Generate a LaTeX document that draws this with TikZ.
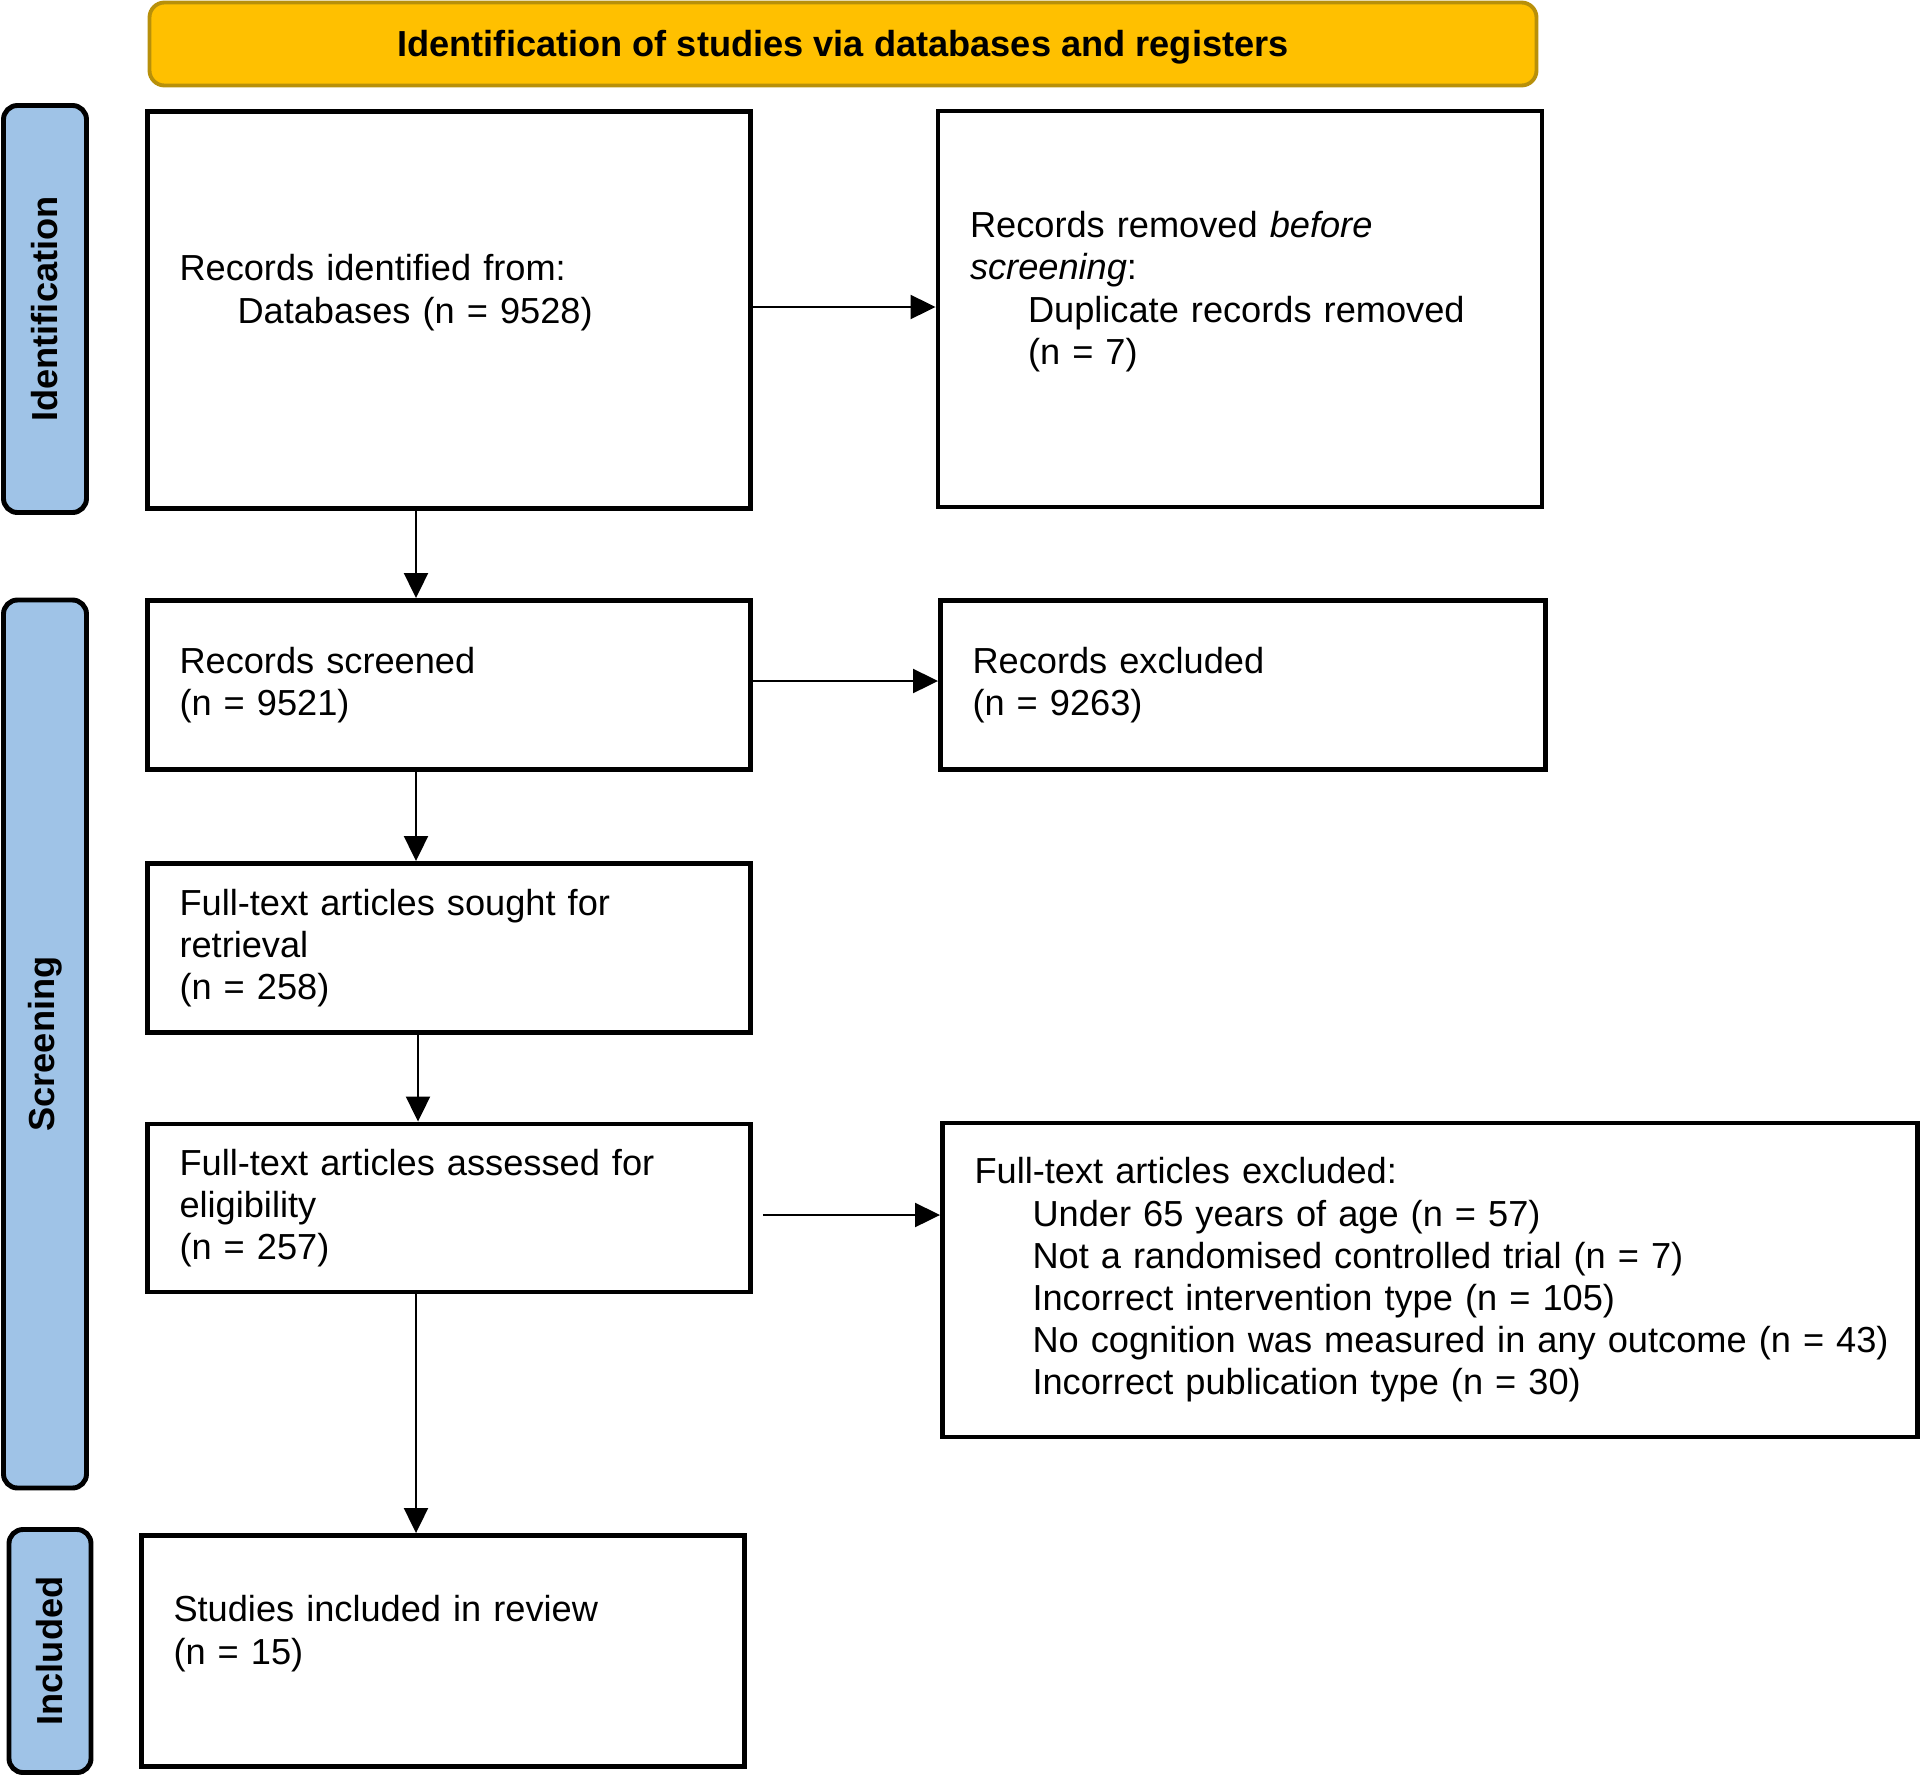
\documentclass[tikz,border=0pt]{standalone}
\usepackage{fontspec}
\setmainfont{Liberation Sans}
\usetikzlibrary{arrows.meta}
\definecolor{titlefill}{HTML}{FFC000}
\definecolor{titleline}{HTML}{B8900A}
\definecolor{sidefill}{HTML}{9FC3E7}
\newcommand{\ind}{\hspace*{0.58cm}}

\begin{document}
\begin{tikzpicture}[
  font=\fontsize{10.3}{12}\selectfont,
  box/.style={shape = rectangle, draw=black, line width=1.4pt, align=left, inner xsep=0.32cm, inner ysep=0pt},
  side/.style={shape = rectangle, rounded corners=0.14cm, draw=black, fill=sidefill, line width=1.4pt, inner sep=0pt, rotate=90, font=\fontsize{10.3}{12}\selectfont\bfseries},
  arr/.style={-{Triangle[length=0.25cm,width=0.24cm]}, line width=0.6pt}
]
\useasboundingbox (0,0) rectangle (19.2,-17.755);

\node[shape = rectangle, rounded corners=0.15cm, draw=titleline, fill=titlefill, line width=1.1pt, minimum width=13.87cm, minimum height=0.83cm, text height=0.26cm, text depth=0pt](head) at (8.43,-0.44) {\bfseries Identification of studies via databases and registers};

\node[side, minimum width=4.07cm, minimum height=0.83cm](sideid) at (0.45,-3.09) {Identification};
\node[side, minimum width=8.88cm, minimum height=0.83cm](sidescr) at (0.45,-10.44) {Screening};
\node[side, minimum width=2.43cm, minimum height=0.82cm](sideinc) at (0.50,-16.51) {Included};

\node[box, text width=5.39cm, minimum height=3.97cm](rec) at (4.49,-3.10) {Records identified from:\\ \ind Databases (n = 9528)\\ \mbox{}};
\node[box, text width=5.40cm, minimum height=3.96cm](dup) at (12.40,-3.09) {Records removed \textit{before}\\ \textit{screening}:\\ \ind Duplicate records removed\\ \ind (n = 7)\\ \mbox{}};
\node[box, text width=5.39cm, minimum height=1.69cm](scr) at (4.49,-6.85) {Records screened\\ (n = 9521)};
\node[box, text width=5.41cm, minimum height=1.69cm](excl) at (12.43,-6.85) {Records excluded\\ (n = 9263)};
\node[box, text width=5.39cm, minimum height=1.69cm](sought) at (4.49,-9.48) {Full-text articles sought for\\ retrieval\\ (n = 258)};
\node[box, text width=5.39cm, minimum height=1.68cm](elig) at (4.49,-12.08) {Full-text articles assessed for\\ eligibility\\ (n = 257)};
\node[box, text width=9.11cm, minimum height=3.14cm](ftex) at (14.30,-12.80) {Full-text articles excluded:\\ \ind Under 65 years of age (n = 57)\\ \ind Not a randomised controlled trial (n = 7)\\ \ind Incorrect intervention type (n = 105)\\ \ind \mbox{No cognition was measured in any outcome (n = 43)}\\ \ind Incorrect publication type (n = 30)};
\node[box, text width=5.39cm, minimum height=2.31cm](incl) at (4.43,-16.51) {Studies included in review\\ (n = 15)\\ \mbox{}};

\path [arr] ([yshift=0.03cm]rec.east) edge ([yshift=0.03cm]rec.east -| dup.west);
\path [arr] ([xshift=-0.33cm]rec.south) edge ([xshift=-0.33cm]scr.north);
\path [arr] ([yshift=0.04cm]scr.east) edge ([yshift=0.04cm]scr.east -| excl.west);
\path [arr] ([xshift=-0.33cm]scr.south) edge ([xshift=-0.33cm]sought.north);
\path [arr] ([xshift=-0.31cm]sought.south) edge ([xshift=-0.31cm]elig.north);
\path [arr] ([xshift=0.1cm,yshift=-0.07cm]elig.east) edge ([yshift=-0.07cm]elig.east -| ftex.west);
\path [arr] ([xshift=-0.33cm]elig.south) edge ([xshift=-0.33cm]elig.south |- incl.north);
\end{tikzpicture}
\end{document}
